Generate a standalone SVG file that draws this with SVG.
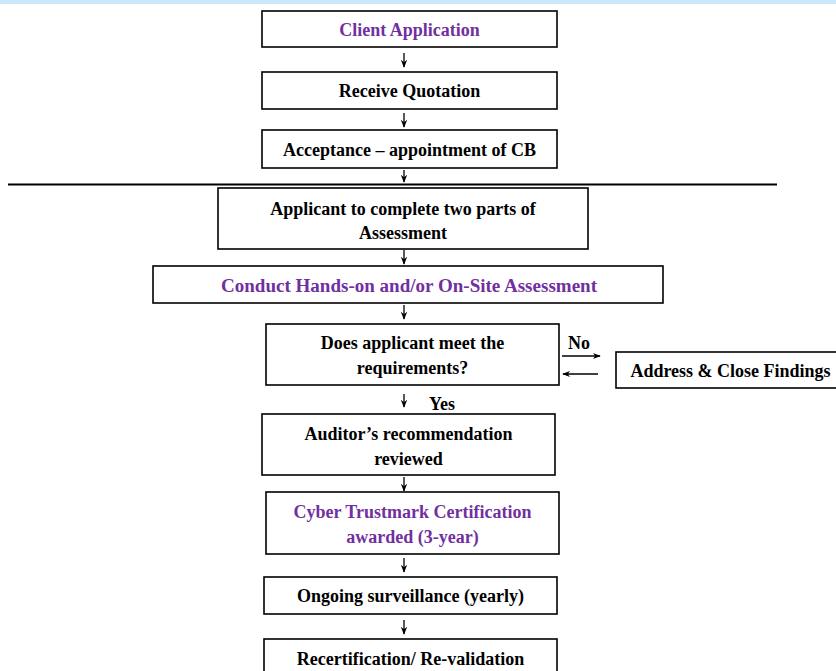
<svg xmlns="http://www.w3.org/2000/svg" width="836" height="671" viewBox="0 0 836 671">
<defs>
<style>
.box{fill:#ffffff;stroke:#000000;stroke-width:1.6}
.t{font-family:"Liberation Serif","Times New Roman",serif;font-weight:bold;font-size:18px;fill:#000000;text-anchor:middle}
.p{fill:#7030a0}
.c{stroke:#000000;stroke-width:1.3;fill:none}
</style>
<marker id="ah" viewBox="0 0 10 10" refX="9" refY="5" markerWidth="8" markerHeight="8" orient="auto" markerUnits="userSpaceOnUse">
<path d="M0,1 L10,5 L0,9 L3,5 Z" fill="#000000"/>
</marker>
</defs>
<rect x="0" y="0" width="836" height="4" fill="#cce8fb"/>
<g id="connectors">
<line class="c" x1="404" y1="53" x2="404" y2="67" marker-end="url(#ah)"/>
<line class="c" x1="404" y1="113" x2="404" y2="127" marker-end="url(#ah)"/>
<line class="c" x1="404" y1="170" x2="404" y2="182" marker-end="url(#ah)"/>
<line x1="8" y1="184.5" x2="777" y2="184.5" stroke="#000000" stroke-width="2"/>
<line class="c" x1="404" y1="250" x2="404" y2="264" marker-end="url(#ah)"/>
<line class="c" x1="404" y1="305" x2="404" y2="319" marker-end="url(#ah)"/>
<line class="c" x1="562" y1="356" x2="600" y2="356" marker-end="url(#ah)"/>
<line class="c" x1="598" y1="374" x2="563" y2="374" marker-end="url(#ah)"/>
<text class="t" x="579" y="349" font-size="16">No</text>
<line class="c" x1="404" y1="394" x2="404" y2="407" marker-end="url(#ah)"/>
<text class="t" x="442" y="410" font-size="16">Yes</text>
<line class="c" x1="404" y1="477" x2="404" y2="491" marker-end="url(#ah)"/>
<line class="c" x1="404" y1="558" x2="404" y2="572" marker-end="url(#ah)"/>
<line class="c" x1="404" y1="620" x2="404" y2="634" marker-end="url(#ah)"/>
</g>
<g id="n1"><rect class="box" x="262" y="11" width="295" height="36" stroke-width="2"/><text class="t p" x="409.5" y="36">Client Application</text></g>
<g id="n2"><rect class="box" x="262" y="72" width="295" height="37"/><text class="t" x="409.5" y="97">Receive Quotation</text></g>
<g id="n3"><rect class="box" x="262" y="130" width="295" height="38"/><text class="t" x="409.5" y="156">Acceptance – appointment of CB</text></g>
<g id="n4"><rect class="box" x="218" y="188" width="370" height="61"/><text class="t" x="403" y="215">Applicant to complete two parts of</text><text class="t" x="403" y="239">Assessment</text></g>
<g id="n5"><rect class="box" x="153" y="266" width="510" height="37"/><text class="t p" x="409" y="292" textLength="376" lengthAdjust="spacingAndGlyphs">Conduct Hands-on and/or On-Site Assessment</text></g>
<g id="n6"><rect class="box" x="266" y="324" width="293" height="61"/><text class="t" x="412.5" y="349">Does applicant meet the</text><text class="t" x="412.5" y="374">requirements?</text></g>
<g id="n7"><rect class="box" x="616" y="352" width="222" height="36"/><text class="t" x="730.5" y="377">Address &amp; Close Findings</text></g>
<g id="n8"><rect class="box" x="262" y="414" width="293" height="61"/><text class="t" x="408.5" y="440">Auditor’s recommendation</text><text class="t" x="408.5" y="465">reviewed</text></g>
<g id="n9"><rect class="box" x="266" y="492" width="293" height="62"/><text class="t p" x="412.5" y="518">Cyber Trustmark Certification</text><text class="t p" x="412.5" y="543">awarded (3-year)</text></g>
<g id="n10"><rect class="box" x="264" y="577" width="293" height="37"/><text class="t" x="410.5" y="602">Ongoing surveillance (yearly)</text></g>
<g id="n11"><rect class="box" x="264" y="639" width="293" height="40"/><text class="t" x="410.5" y="665">Recertification/ Re-validation</text></g>
</svg>
